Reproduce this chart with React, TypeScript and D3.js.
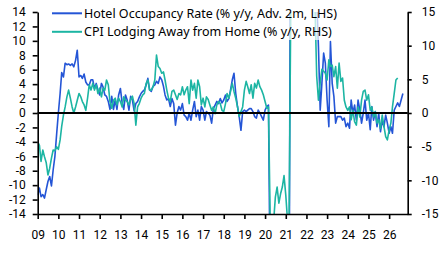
import { useEffect, useRef } from "react";
import * as d3 from "d3";

const width = 446;
const height = 253;
const margin = { top: 12, right: 38.3, bottom: 39, left: 37.7 };

// monthly series, both starting Jan 2009
const startYear = 2009;
const years = d3.range(2009, 2027);
const lhsTicks = [-14, -12, -10, -8, -6, -4, -2, 0, 2, 4, 6, 8, 10, 12, 14];
const rhsTicks = [-15, -10, -5, 0, 5, 10, 15];

const seriesNames = [
  "Hotel Occupancy Rate (% y/y, Adv. 2m, LHS)",
  "CPI Lodging Away from Home (% y/y, RHS)",
];

const hotelOccupancy = [
  -11.4, -10.4, -11.6, -11.3, -11.8, -10.6, -9.5, -8.8, -10.1, -7.9,
  -6.0, -3.0, 0.0, 2.7, 5.6, 5.0, 6.9, 6.7, 6.8, 6.6,
  6.8, 6.4, 7.3, 8.7, 5.0, 5.2, 4.8, 5.4, 4.3, 3.9,
  3.9, 4.6, 4.6, 3.4, 4.1, 3.2, 2.5, 4.1, 3.6, 2.5,
  2.3, 1.6, 0.5, 2.3, 0.5, 1.8, 0.5, 2.5, 3.4, 1.4,
  0.5, 2.5, 1.8, 0.4, 2.3, 1.8, 0.3, 1.3, 1.6, 2.2,
  2.7, 3.0, 3.2, 3.9, 4.8, 3.2, 3.0, 3.7, 3.9, 4.4,
  4.1, 5.0, 4.6, 3.7, 2.5, 1.8, 2.0, 0.9, 2.0, 1.3,
  -1.7, 0.0, 0.9, 0.4, 1.3, -0.3, -0.5, -1.0, 0.0, -1.0,
  0.4, 1.6, -0.5, 0.4, -1.0, 0.9, 0.4, -1.0, 0.2, 0.0,
  -0.3, -1.4, 0.6, 1.1, 1.6, 1.3, 2.0, 1.4, 1.8, 2.5,
  1.6, 2.0, 3.2, 4.6, 5.5, 2.7, 0.9, -0.5, -2.4, 0.2,
  0.4, 0.2, 0.4, 0.6, 0.6, 0.2, -0.5, -0.7, 0.4, 0.0,
  -0.5, -1.0, 0.4, 0.9, 1.1,
  -25, -60, -80, -75, -70, -60, -55, -50, -45, -40, -35, -30,
  50, 90, 110, 100, 80, 60, 50, 45, 40, 35, 30, 25, 22, 20, 18, 16,
  9.2, 0.4, 4.1, 8.3, 6.9, 1.8, -1.9, 9.9, 4.1, 2.3, -1.4,
  -0.5, -0.5, -0.5, -1.0, -0.7, -1.9, -1.4, -2.1, 1.8, 0.0,
  1.1, -1.0, 1.8, 0.4, -1.4, 0.0, 1.8, -1.0, 0.0, -2.3,
  0.9, -1.0, 0.2, -1.9, 0.0, -2.6, -1.0, -1.9, -0.3, -1.4,
  -2.8, -1.9, -2.8, 0.4, 0.9, 1.4, 0.9, 1.8, 2.7,
];

const cpiLodging = [
  -4.3, -4.8, -7.2, -5.5, -6.5, -7.4, -9.2, -8.2, -6.7, -5.5,
  -5.6, -5.0, -5.4, -4.0, -2.0, -0.3, 0.9, 2.4, 3.4, 2.2,
  0.9, 0.0, 0.9, 1.9, 2.9, 2.4, 1.7, 1.2, 0.4, 2.2,
  4.2, 3.4, 4.4, 3.4, 4.2, 2.9, 3.7, 2.4, 3.7, 3.4,
  4.9, 4.2, 1.7, 0.7, 1.9, 2.2, 1.2, 2.2, 1.7, 0.9,
  2.4, 1.9, 1.7, 1.2, 2.0, 2.5, 1.4, -1.8, 0.9, 1.4,
  2.2, 2.7, 2.9, 4.4, 4.9, 3.4, 3.4, 3.9, 4.9, 8.6,
  6.9, 6.6, 5.9, 6.1, 4.9, 3.4, 2.2, 1.7, 3.2, 3.4,
  2.7, 2.0, 2.9, 2.7, 3.9, 2.7, 3.4, 3.9, 1.4, 4.9,
  3.4, 4.4, 2.2, 4.9, 3.9, 1.2, 2.2, 0.9, 2.4, 2.0,
  1.2, 0.4, 0.9, -0.1, 1.2, 1.7, 1.4, 0.4, 0.2, 1.4,
  2.9, 2.2, 3.2, 4.4, 3.2, 2.2, 0.9, -0.5, 0.2, 0.9,
  3.4, 4.7, 3.9, 2.9, 4.2, 2.2, 4.4, 3.7, 4.9, 3.9,
  3.4, 2.7, 1.7, 0.7, 0.9,
  -16, -17, -16, -12.5, -11, -13.4, -12, -11, -9.3, -12.2, -16, -16,
  18, 22, 25, 25, 24, 22, 20, 20, 19, 18, 18, 17, 17, 16, 16, 5.5,
  1.9, 4.5, 6.5, 6.2, 5.9, 4.9, 7.9, 6.9, 7.1, 5.4, 6.9, 3.7, 7.4, 4.7,
  5.2, 1.9, 0.9, 0.4, 0.9, -1.0, 0.4, -1.3, -1.8, 0.9,
  -0.6, 1.9, 3.2, 3.4, 1.9, 2.7, 0.4, 0.9, -0.6, 0.2,
  -1.5, -1.0, -2.3, -0.3, -2.0, -3.5, -4.0, -2.5, -1.5, 0.9,
  2.9, 4.9, 5.2,
];

const colors = ["#2455d6", "#1cb5a3"];
const font = "'Noto Sans', sans-serif";
const tickFont = "Roboto, sans-serif";

function App() {
  const d3Node = useRef(null);

  useEffect(() => {
    const svg = d3.select(d3Node.current);
    svg.selectAll("*").remove();

    const x0 = margin.left;
    const x1 = width - margin.right;
    const y0 = height - margin.bottom;
    const y1 = margin.top;

    const x = d3
      .scaleTime()
      .domain([new Date(startYear, 0, 1), new Date(2026, 10, 25)])
      .range([x0, x1]);
    const yL = d3.scaleLinear().domain([-14, 14]).range([y0, y1]);
    const yR = d3.scaleLinear().domain([-15, 15]).range([y0, y1]);

    svg
      .append("defs")
      .append("clipPath")
      .attr("id", "plot-clip")
      .append("rect")
      .attr("x", x0)
      .attr("y", y1)
      .attr("width", x1 - x0)
      .attr("height", y0 - y1);

    // lines
    const lineL = d3
      .line<number>()
      .x((d, i) => x(new Date(startYear, i, 1)))
      .y((d) => yL(d));
    const lineR = d3
      .line<number>()
      .x((d, i) => x(new Date(startYear, i, 1)))
      .y((d) => yR(d));

    const plot = svg.append("g").attr("clip-path", "url(#plot-clip)");
    plot
      .append("path")
      .attr("d", lineL(hotelOccupancy))
      .attr("fill", "none")
      .attr("stroke", colors[0])
      .attr("stroke-width", 1.6)
      .attr("stroke-linejoin", "round");
    plot
      .append("path")
      .attr("d", lineR(cpiLodging))
      .attr("fill", "none")
      .attr("stroke", colors[1])
      .attr("stroke-width", 1.6)
      .attr("stroke-linejoin", "round");

    // zero line
    svg
      .append("line")
      .attr("x1", x0)
      .attr("x2", x1)
      .attr("y1", yL(0))
      .attr("y2", yL(0))
      .attr("stroke", "#000")
      .attr("stroke-width", 2);

    const styleAxis = (g) => {
      g.attr("font-family", tickFont).attr("font-size", 12);
      g.select(".domain").attr("stroke", "#000").attr("stroke-width", 1.6);
      g.selectAll(".tick line").attr("stroke", "#000").attr("stroke-width", 1.6);
      g.selectAll(".tick text").attr("fill", "#000");
    };

    svg
      .append("g")
      .attr("transform", `translate(${x0},0)`)
      .call(
        d3
          .axisLeft(yL)
          .tickValues(lhsTicks)
          .tickSize(5)
          .tickSizeOuter(0)
          .tickPadding(7)
          .tickFormat((d) => String(d))
      )
      .call(styleAxis);

    svg
      .append("g")
      .attr("transform", `translate(${x1},0)`)
      .call(
        d3
          .axisRight(yR)
          .tickValues(rhsTicks)
          .tickSize(4)
          .tickSizeOuter(0)
          .tickPadding(10)
          .tickFormat((d) => String(d))
      )
      .call(styleAxis);

    svg
      .append("g")
      .attr("transform", `translate(0,${y0})`)
      .call(
        d3
          .axisBottom(x)
          .tickValues(years.map((yr) => new Date(yr, 0, 1)))
          .tickSize(5)
          .tickSizeOuter(0)
          .tickPadding(11)
          .tickFormat(d3.timeFormat("%y"))
      )
      .call(styleAxis);

    // legend
    const legend = svg.append("g");
    legend
      .append("rect")
      .attr("x", 46)
      .attr("y", y1)
      .attr("width", 296)
      .attr("height", 28)
      .attr("fill", "#fff")
      .attr("fill-opacity", 0.7);
    seriesNames.forEach((name, i) => {
      const ly = 13.3 + i * 18.5;
      legend
        .append("line")
        .attr("x1", 52)
        .attr("x2", 82)
        .attr("y1", ly)
        .attr("y2", ly)
        .attr("stroke", colors[i])
        .attr("stroke-width", 2);
      legend
        .append("text")
        .attr("x", 84)
        .attr("y", ly + 4.6)
        .attr("font-family", font)
        .attr("font-size", 12.5)
        .attr("fill", "#000")
        .text(name);
    });
  }, []);

  return (
    <svg
      ref={d3Node}
      width={width}
      height={height}
      style={{ position: "absolute", left: 0, top: 0, background: "#fff" }}
    />
  );
}

export default App;
